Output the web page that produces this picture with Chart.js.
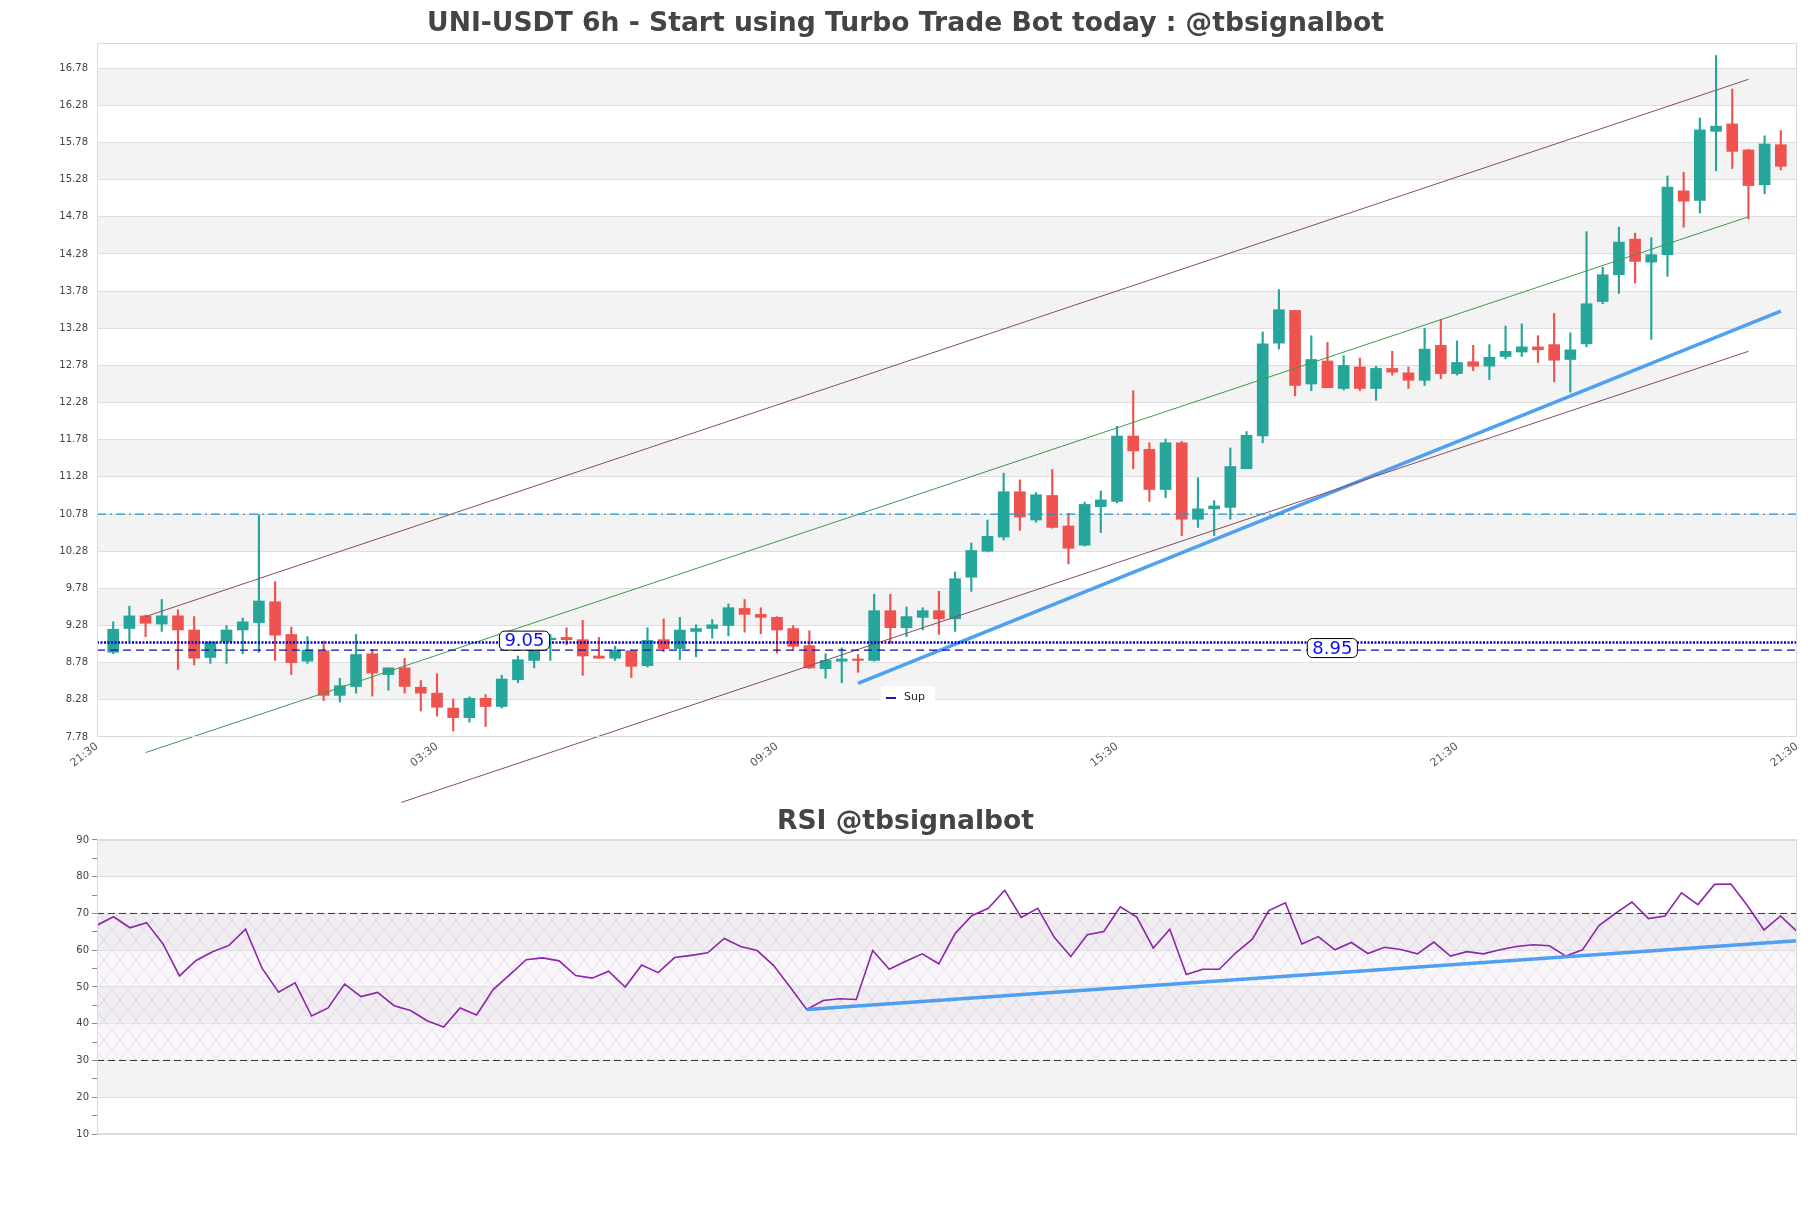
<!DOCTYPE html>
<html>
<head>
<meta charset="utf-8">
<title>UNI-USDT 6h</title>
<script src="https://cdn.jsdelivr.net/npm/chart.js@4.4.0/dist/chart.umd.min.js"></script>
<style>
  html, body { margin: 0; padding: 0; background: #fff; }
  #main { position: absolute; left: 0; top: 0; width: 1811px; height: 830px; }
  #rsi { position: absolute; left: 0; top: 790px; width: 1811px; height: 418px; }
</style>
</head>
<body>
<div id="main"><canvas id="priceChart"></canvas></div>
<div id="rsi"><canvas id="rsiChart"></canvas></div>
<script>
// candles, 6h
var opens = [8.92, 9.24, 9.41, 9.30, 9.41, 9.22, 8.85, 9.06, 9.22, 9.32,
  9.60, 9.16, 8.80, 8.94, 8.34, 8.46, 8.90, 8.62, 8.71, 8.45,
  8.37, 8.17, 8.04, 8.30, 8.19, 8.55, 8.81, 9.09, 9.12, 9.09,
  8.87, 8.84, 8.94, 8.74, 9.09, 8.97, 9.20, 9.24, 9.28, 9.51,
  9.43, 9.39, 9.24, 9.01, 8.70, 8.80, 8.83, 8.81, 9.48, 9.25,
  9.39, 9.48, 9.37, 9.93, 10.28, 10.47, 11.08, 10.70, 11.03, 10.62,
  10.36, 10.88, 10.95, 11.83, 11.65, 11.11, 11.74, 10.71, 10.85, 10.87,
  11.39, 11.83, 13.08, 13.52, 12.53, 12.84, 12.47, 12.76, 12.47, 12.74,
  12.68, 12.58, 13.05, 12.67, 12.83, 12.77, 12.90, 12.96, 13.03, 13.06,
  12.86, 13.07, 13.64, 14.00, 14.48, 14.17, 14.27, 15.13, 15.00, 15.93,
  16.03, 15.68, 15.21, 15.75];
var highs = [9.33, 9.54, 9.42, 9.63, 9.49, 9.40, 9.07, 9.28, 9.38, 10.77,
  9.87, 9.26, 9.13, 9.07, 8.57, 9.16, 8.96, 8.71, 8.84, 8.54,
  8.63, 8.29, 8.32, 8.35, 8.61, 8.87, 8.96, 9.16, 9.25, 9.35,
  9.12, 9.00, 8.94, 9.25, 9.37, 9.39, 9.29, 9.36, 9.57, 9.63,
  9.52, 9.40, 9.28, 9.21, 8.90, 8.98, 8.89, 9.70, 9.70, 9.53,
  9.52, 9.74, 10.00, 10.39, 10.70, 11.33, 11.24, 11.07, 11.38, 10.79,
  10.94, 11.09, 11.96, 12.44, 11.74, 11.79, 11.76, 11.27, 10.96, 11.67,
  11.89, 13.23, 13.80, 13.52, 13.18, 13.09, 12.91, 12.88, 12.77, 12.97,
  12.76, 13.28, 13.40, 13.11, 13.05, 13.06, 13.31, 13.34, 13.18, 13.48,
  13.22, 14.58, 14.10, 14.64, 14.56, 14.50, 15.33, 15.38, 16.11, 16.95,
  16.50, 15.69, 15.87, 15.94];
var lows = [8.90, 9.07, 9.13, 9.20, 8.69, 8.75, 8.77, 8.77, 8.90, 8.92,
  8.81, 8.62, 8.77, 8.27, 8.25, 8.37, 8.33, 8.41, 8.37, 8.13,
  8.06, 7.86, 7.98, 7.92, 8.17, 8.51, 8.71, 8.81, 9.02, 8.61,
  8.84, 8.81, 8.58, 8.72, 8.93, 8.82, 8.86, 9.11, 9.14, 9.19,
  9.17, 8.91, 8.96, 8.70, 8.57, 8.51, 8.65, 8.80, 9.04, 9.13,
  9.22, 9.16, 9.20, 9.74, 10.27, 10.43, 10.56, 10.67, 10.59, 10.11,
  10.35, 10.53, 10.93, 11.39, 10.95, 11.00, 10.49, 10.60, 10.49, 10.71,
  11.39, 11.74, 13.00, 12.37, 12.44, 12.48, 12.45, 12.44, 12.31, 12.65,
  12.47, 12.51, 12.60, 12.65, 12.71, 12.59, 12.87, 12.90, 12.82, 12.56,
  12.42, 13.03, 13.61, 13.75, 13.89, 13.13, 13.98, 14.64, 14.83, 15.40,
  15.43, 14.75, 15.09, 15.41];
var closes = [9.23, 9.41, 9.31, 9.41, 9.22, 8.84, 9.06, 9.22, 9.33, 9.61,
  9.15, 8.78, 8.95, 8.34, 8.47, 8.89, 8.64, 8.71, 8.46, 8.37,
  8.18, 8.04, 8.30, 8.19, 8.56, 8.82, 8.95, 9.11, 9.09, 8.87,
  8.84, 8.95, 8.73, 9.08, 8.97, 9.22, 9.24, 9.29, 9.52, 9.43,
  9.39, 9.22, 9.00, 8.71, 8.81, 8.83, 8.81, 9.48, 9.25, 9.40,
  9.48, 9.37, 9.91, 10.29, 10.48, 11.08, 10.74, 11.04, 10.60, 10.32,
  10.91, 10.97, 11.83, 11.63, 11.11, 11.74, 10.71, 10.85, 10.89, 11.42,
  11.84, 13.07, 13.53, 12.51, 12.86, 12.48, 12.78, 12.47, 12.74, 12.69,
  12.58, 13.00, 12.67, 12.82, 12.77, 12.89, 12.97, 13.03, 12.99, 12.85,
  12.99, 13.61, 14.00, 14.44, 14.18, 14.27, 15.18, 14.99, 15.95, 16.00,
  15.66, 15.20, 15.76, 15.46];

var rsi = [66.8, 69.1, 66.1, 67.5, 61.7, 53.0, 57.2, 59.6, 61.3, 65.7,
  55.1, 48.6, 51.1, 42.1, 44.3, 50.8, 47.4, 48.5, 44.9, 43.6,
  40.8, 39.1, 44.3, 42.4, 49.3, 53.3, 57.4, 57.9, 57.1, 53.1,
  52.4, 54.3, 50.0, 56.0, 53.9, 58.0, 58.6, 59.3, 63.2, 61.0,
  59.9, 55.8, 49.9, 43.9, 46.3, 46.8, 46.6, 59.9, 54.8, 57.0,
  59.0, 56.3, 64.6, 69.4, 71.4, 76.3, 68.9, 71.4, 63.5, 58.3,
  64.2, 65.1, 71.8, 69.0, 60.6, 65.7, 53.4, 54.8, 54.8, 59.3,
  63.0, 70.8, 72.9, 61.7, 63.7, 60.1, 62.1, 59.1, 60.8, 60.2,
  59.0, 62.2, 58.4, 59.6, 59.0, 60.1, 61.0, 61.5, 61.2, 58.4,
  60.1, 66.7, 70.0, 73.1, 68.6, 69.3, 75.6, 72.4, 77.9, 78.0,
  72.1, 65.5, 69.3, 65.1];

// axis ticks
var xTickPos = [0, 21, 42, 63, 84, 105];
var xTickLabels = ['21:30', '03:30', '09:30', '15:30', '21:30', '21:30'];
var yTickVals = [7.78, 8.28, 8.78, 9.28, 9.78, 10.28, 10.78, 11.28, 11.78, 12.28,
  12.78, 13.28, 13.78, 14.28, 14.78, 15.28, 15.78, 16.28, 16.78];
var rsiMajor = [10, 20, 30, 40, 50, 60, 70, 80, 90];
var rsiMinor = [15, 25, 35, 45, 55, 65, 75, 85];

// trend lines [index, price]
var channelTop = [[3, 9.40], [102, 16.63]];
var channelMid = [[3, 7.57], [102, 14.78]];
var channelLow = [[18.8, 6.90], [102, 12.97]];
var supportLine = [[47, 8.50], [104, 13.51]];
var rsiTrend = [[43, 43.9], [103, 62.6]];

// horizontal levels
var resistLevel = 10.78;
var pivotLevel = 9.05;
var supLevel = 8.95;
var levelTags = [9.05, 8.95];
var levelTagAt = [26.4, 76.3];
var rsiBounds = [30, 70];

var UP = '#26a69a', DOWN = '#ef5350';
Chart.defaults.font.family = '"DejaVu Sans", sans-serif';

function seg(pts, color, width, dash, noClip) {
  return {
    type: 'line',
    data: pts.map(function (p) { return { x: p[0], y: p[1] }; }),
    borderColor: color,
    borderWidth: width,
    borderDash: dash || [],
    pointRadius: 0,
    fill: false,
    tension: 0,
    clip: noClip ? false : undefined,
    order: 0
  };
}

var candleColors = opens.map(function (o, i) { return closes[i] >= o ? UP : DOWN; });

const priceDecor = {
  id: 'priceDecor',
  beforeDraw(chart) {
    const { ctx, chartArea: a, scales: { y } } = chart;
    ctx.save();
    ctx.fillStyle = '#f3f3f3';
    for (let k = 1; k < yTickVals.length - 1; k += 2) {
      const top = y.getPixelForValue(yTickVals[k + 1]);
      const bot = y.getPixelForValue(yTickVals[k]);
      ctx.fillRect(a.left, top, a.right - a.left, bot - top);
    }
    ctx.restore();
  },
  afterDatasetsDraw(chart) {
    const { ctx, scales: { x, y } } = chart;
    ctx.save();
    ctx.font = '18px "DejaVu Sans"';
    ctx.textAlign = 'center';
    ctx.textBaseline = 'middle';
    levelTags.forEach(function (v, i) {
      const txt = v.toFixed(2);
      const cx = x.getPixelForValue(levelTagAt[i]);
      const cy = y.getPixelForValue(v) - 2;
      const w = ctx.measureText(txt).width + 10, h = 19;
      ctx.beginPath();
      ctx.roundRect(cx - w / 2, cy - h / 2, w, h, 5);
      ctx.fillStyle = '#fff';
      ctx.fill();
      ctx.strokeStyle = '#000';
      ctx.lineWidth = 1;
      ctx.stroke();
      ctx.fillStyle = '#1010e0';
      ctx.fillText(txt, cx, cy + 1);
    });
    ctx.restore();
  },
  afterDraw(chart) {
    const { ctx, chartArea: a } = chart;
    ctx.save();
    ctx.strokeStyle = '#dadada';
    ctx.lineWidth = 1;
    ctx.strokeRect(a.left + 0.5, a.top + 0.5, a.right - a.left - 1, a.bottom - a.top - 1);
    // legend box
    const lx = a.left + 784, ly = a.bottom - 51;
    ctx.beginPath();
    ctx.roundRect(lx, ly, 54, 22, 4);
    ctx.fillStyle = '#fff';
    ctx.fill();
    ctx.strokeStyle = '#1a1aa8';
    ctx.lineWidth = 2;
    ctx.beginPath();
    ctx.moveTo(lx + 5, ly + 12);
    ctx.lineTo(lx + 15, ly + 12);
    ctx.stroke();
    ctx.fillStyle = '#222';
    ctx.font = '11px "DejaVu Sans"';
    ctx.textBaseline = 'middle';
    ctx.fillText('Sup', lx + 23, ly + 11);
    ctx.restore();
  }
};

new Chart(document.getElementById('priceChart'), {
  type: 'bar',
  data: {
    datasets: [
      seg([[0, resistLevel], [105, resistLevel]], 'rgb(30,150,215)', 1.2, [9, 4, 2, 4]),
      seg([[0, pivotLevel], [105, pivotLevel]], '#0000d0', 2.5, [2, 1.5]),
      seg([[0, supLevel], [105, supLevel]], '#10109a', 1.3, [8, 5]),
      seg(channelTop, '#8a4a5e', 1, [], true),
      seg(channelMid, '#3c9a50', 1, [], true),
      seg(channelLow, '#8a4a5e', 1, [], true),
      seg(supportLine, 'rgba(70,155,240,0.95)', 3.5, [], true),
      {
        data: opens.map(function (o, i) { return { x: i + 1, y: [o, closes[i]] }; }),
        backgroundColor: candleColors,
        borderWidth: 0,
        barThickness: 11,
        minBarLength: 1.5,
        grouped: false,
        order: 5
      },
      {
        data: lows.map(function (l, i) { return { x: i + 1, y: [l, highs[i]] }; }),
        backgroundColor: candleColors,
        borderWidth: 0,
        barThickness: 1.5,
        grouped: false,
        order: 6
      }
    ]
  },
  options: {
    responsive: true,
    maintainAspectRatio: false,
    animation: false,
    layout: { padding: { left: 14, right: 14, top: 0, bottom: 0 } },
    plugins: {
      legend: { display: false },
      tooltip: { enabled: false },
      title: {
        display: true,
        text: 'UNI-USDT 6h - Start using Turbo Trade Bot today : @tbsignalbot',
        color: '#444',
        font: { size: 26.6, weight: 'bold' },
        padding: { top: 8, bottom: 3 }
      }
    },
    scales: {
      x: {
        type: 'linear',
        min: 0,
        max: 105,
        offset: false,
        grid: { display: false, drawTicks: false },
        border: { display: false },
        afterBuildTicks: function (s) { s.ticks = xTickPos.map(function (v) { return { value: v }; }); },
        afterFit: function (s) { s.height = 93; },
        ticks: {
          autoSkip: false,
          minRotation: 38,
          maxRotation: 38,
          padding: 3,
          color: '#555',
          font: { size: 11 },
          callback: function (v, i) { return xTickLabels[i]; }
        }
      },
      y: {
        min: 7.78,
        max: 17.12,
        grid: { color: '#dedede', drawTicks: false },
        border: { display: false },
        afterBuildTicks: function (s) { s.ticks = yTickVals.map(function (v) { return { value: v }; }); },
        afterFit: function (s) { s.width = 83; },
        ticks: {
          padding: 9,
          color: '#444',
          font: { size: 10 },
          callback: function (v) { return v.toFixed(2); }
        }
      }
    }
  },
  plugins: [priceDecor]
});

// hatch for the rsi 30-70 zone
function hatch() {
  const c = document.createElement('canvas');
  c.width = 16; c.height = 20;
  const g = c.getContext('2d');
  g.strokeStyle = 'rgba(175,140,200,0.4)';
  g.lineWidth = 0.6;
  g.beginPath();
  g.moveTo(0, 0); g.lineTo(16, 20);
  g.moveTo(16, 0); g.lineTo(0, 20);
  g.stroke();
  return c;
}

const rsiDecor = {
  id: 'rsiDecor',
  beforeDraw(chart) {
    const { ctx, chartArea: a, scales: { y } } = chart;
    ctx.save();
    ctx.fillStyle = '#f3f3f3';
    for (let k = 1; k < rsiMajor.length - 1; k += 2) {
      const top = y.getPixelForValue(rsiMajor[k + 1]);
      const bot = y.getPixelForValue(rsiMajor[k]);
      ctx.fillRect(a.left, top, a.right - a.left, bot - top);
    }
    const t = y.getPixelForValue(rsiBounds[1]), b = y.getPixelForValue(rsiBounds[0]);
    ctx.fillStyle = 'rgba(235,225,240,0.25)';
    ctx.fillRect(a.left, t, a.right - a.left, b - t);
    ctx.fillStyle = ctx.createPattern(hatch(), 'repeat');
    ctx.fillRect(a.left, t, a.right - a.left, b - t);
    ctx.restore();
  },
  afterDraw(chart) {
    const { ctx, chartArea: a } = chart;
    ctx.save();
    ctx.strokeStyle = '#dadada';
    ctx.lineWidth = 1;
    ctx.strokeRect(a.left + 0.5, a.top + 0.5, a.right - a.left - 1, a.bottom - a.top - 1);
    ctx.restore();
  }
};

new Chart(document.getElementById('rsiChart'), {
  type: 'line',
  data: {
    datasets: [
      seg(rsiTrend, 'rgba(70,155,240,0.95)', 3.5),
      seg([[0, rsiBounds[1]], [103, rsiBounds[1]]], '#333', 1, [7, 4]),
      seg([[0, rsiBounds[0]], [103, rsiBounds[0]]], '#333', 1, [7, 4]),
      {
        data: rsi.map(function (v, i) { return { x: i, y: v }; }),
        borderColor: '#8e24aa',
        borderWidth: 1.6,
        pointRadius: 0,
        tension: 0,
        fill: false,
        order: 1
      }
    ]
  },
  options: {
    responsive: true,
    maintainAspectRatio: false,
    animation: false,
    layout: { padding: { left: 14, right: 14, top: 0, bottom: 74 } },
    plugins: {
      legend: { display: false },
      tooltip: { enabled: false },
      title: {
        display: true,
        text: 'RSI @tbsignalbot',
        color: '#444',
        font: { size: 26.6, weight: 'bold' },
        padding: { top: 16, bottom: 2 }
      }
    },
    scales: {
      x: { type: 'linear', min: 0, max: 103, display: false },
      y: {
        min: 10,
        max: 90,
        border: { display: false },
        grid: {
          color: function (c) { return c.tick && rsiMajor.indexOf(c.tick.value) >= 0 ? '#dedede' : 'rgba(0,0,0,0)'; },
          tickColor: '#888',
          tickLength: 5
        },
        afterBuildTicks: function (s) {
          s.ticks = rsiMajor.concat(rsiMinor).sort(function (p, q) { return p - q; })
            .map(function (v) { return { value: v }; });
        },
        afterFit: function (s) { s.width = 83; },
        ticks: {
          padding: 3,
          color: '#444',
          font: { size: 10 },
          callback: function (v) { return rsiMajor.indexOf(v) >= 0 ? String(v) : ''; }
        }
      }
    }
  },
  plugins: [rsiDecor]
});
</script>
</body>
</html>
